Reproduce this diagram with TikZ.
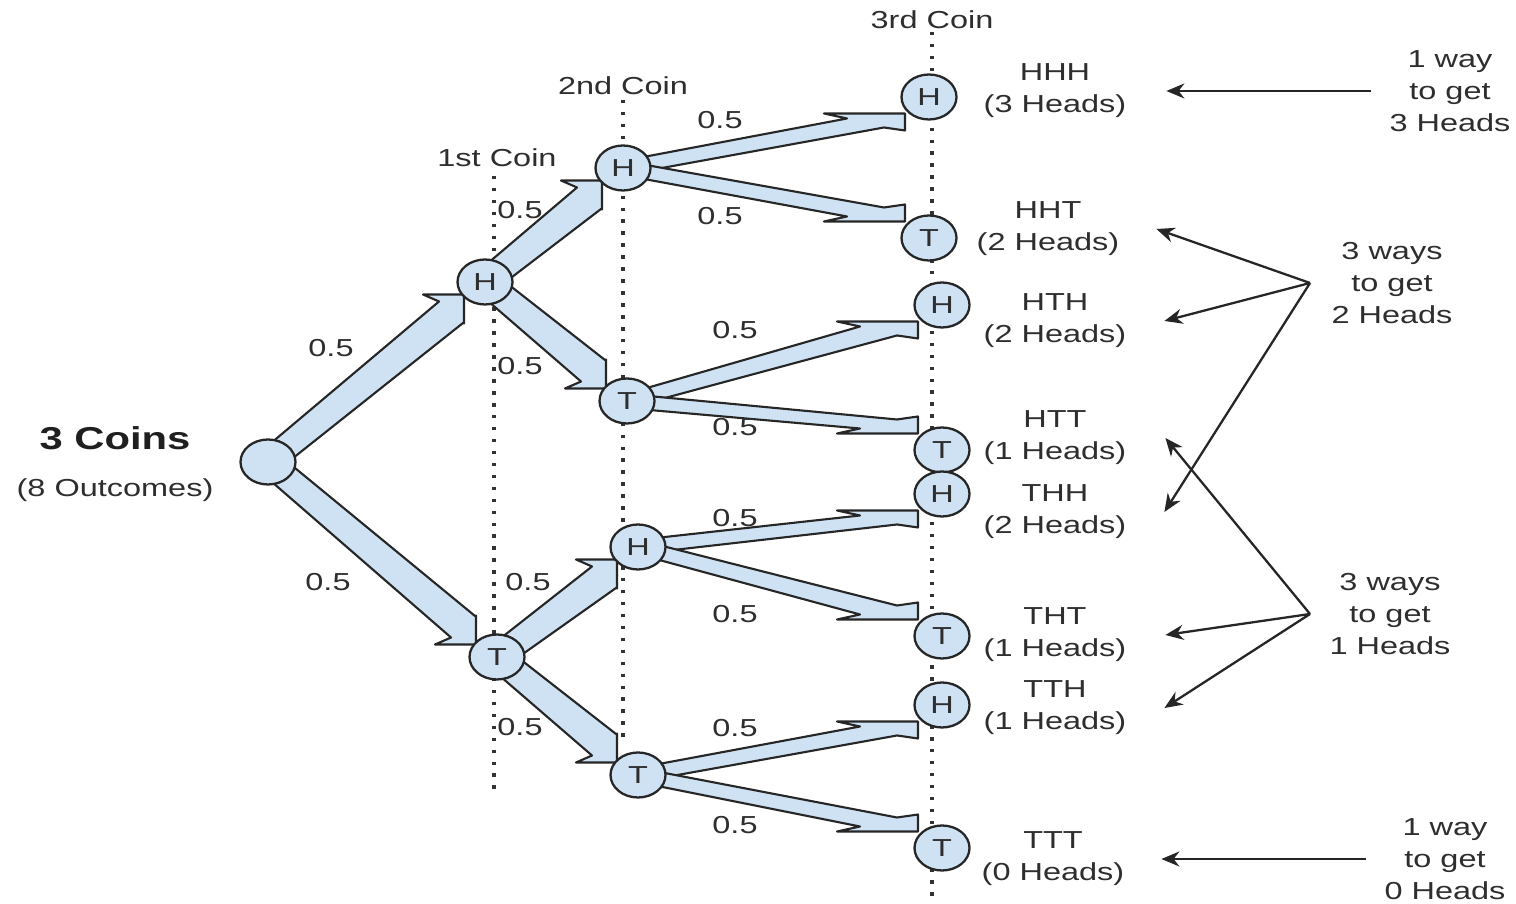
\documentclass[tikz,border=0pt]{standalone}
\usepackage{fontspec}
\setmainfont{Liberation Sans}[FakeStretch=1.32]
\usepackage{tikz}
\usetikzlibrary{arrows.meta,calc,shapes.geometric}
\tikzset{>={Stealth[length=0.36cm,width=0.3cm]}}
\definecolor{coinblue}{HTML}{CFE2F3}
\pgfdeclarelayer{bg}
\pgfsetlayers{bg,main}

% fat arrow from node #1 to the flat end #2, barb below (#3=1) or above (#3=-1)
\newcommand{\coinarrow}[3]{%
  \ifnum#3>0
    \coordinate (sa) at ($(#1)!\shaftw!90:(#2)$);
    \coordinate (sb) at ($(#1)!\shaftw!-90:(#2)$);
  \else
    \coordinate (sa) at ($(#1)!\shaftw!-90:(#2)$);
    \coordinate (sb) at ($(#1)!\shaftw!90:(#2)$);
  \fi
  \filldraw[fat] (sa) -- ($(#2)+(\upx,#3*\upy)$) -- ($(#2)+(0,#3*\endh)$) -- ($(#2)+(0,#3*-\endh)$)
    -- ($(#2)+(-\barbl,#3*-\endh)$) -- ($(#2)+(\notx,#3*-\noty)$) -- (sb) -- cycle;
}

\begin{document}
\begin{tikzpicture}[coin/.style={ellipse, draw=black!85, fill=coinblue, line width=1.3pt, minimum width=1.1cm, minimum height=0.9cm, inner sep=0pt, text=black!82},
  fat/.style={fill=coinblue, draw=black!85, line width=1.2pt, line join=round},
  prob/.style={text=black!82},
  outcome/.style={align=center, text=black!82, inner sep=1pt},
  way/.style={->, line width=1.3pt, black!85},
  coinline/.style={black!80, line width=2pt, dash pattern=on 2pt off 4.8pt},
  font=\fontsize{14pt}{18.2pt}\selectfont]
	\useasboundingbox (0,0) rectangle (30.32,18.08);

	\node[coin] (root) at (5.36,8.84) {};
	\node[coin] (c1h) at (9.70,12.44) {H};
	\node[coin] (c1t) at (9.94,4.94) {T};
	\node[coin] (c2hh) at (12.46,14.72) {H};
	\node[coin] (c2ht) at (12.54,10.06) {T};
	\node[coin] (c2th) at (12.76,7.14) {H};
	\node[coin] (c2tt) at (12.76,2.58) {T};
	\foreach \n/\x/\y/\t in {hhh/18.58/16.14/H, hht/18.58/13.32/T, hth/18.84/11.98/H, htt/18.84/9.08/T,
	                         thh/18.84/8.20/H, tht/18.84/5.36/T, tth/18.84/3.98/H, ttt/18.84/1.12/T}
		\node[coin] (\n) at (\x,\y) {\t};

	\node[font=\fontsize{18pt}{22pt}\selectfont\bfseries, text=black!88] (title) at (2.30,9.32) {3 Coins};
	\node[text=black!82] (sub) at (2.30,8.28) {(8 Outcomes)};
	\node[text=black!82] (l1) at (9.94,14.92) {1st Coin};
	\node[text=black!82] (l2) at (12.46,16.36) {2nd Coin};
	\node[text=black!82] (l3) at (18.64,17.68) {3rd Coin};

	\foreach \x/\y [count=\i] in {6.62/11.12, 6.56/6.44, 10.40/13.88, 10.40/10.76, 10.56/6.44, 10.40/3.54, 14.40/15.68,
	                              14.40/13.76, 14.70/11.48, 14.70/9.54, 14.70/7.72, 14.70/5.80, 14.70/3.52, 14.70/1.58}
		\node[prob] (p\i) at (\x,\y) {0.5};

	\foreach \n/\x/\y/\t/\h in {o1/21.10/16.26/HHH/3, o2/20.96/13.50/HHT/2, o3/21.10/11.66/HTH/2, o4/21.10/9.32/HTT/1,
	                            o5/21.10/7.84/THH/2, o6/21.10/5.38/THT/1, o7/21.10/3.92/TTH/1, o8/21.06/0.90/TTT/0}
		\node[outcome] (\n) at (\x,\y) {\t\\(\h{} Heads)};

	\node[outcome] (w3) at (29.00,16.26) {1 way\\to get\\3 Heads};
	\node[outcome] (w2) at (27.84,12.42) {3 ways\\to get\\2 Heads};
	\node[outcome] (w1) at (27.80,5.80) {3 ways\\to get\\1 Heads};
	\node[outcome] (w0) at (28.90,0.90) {1 way\\to get\\0 Heads};
	\coordinate (f2) at (26.20,12.42);
	\coordinate (f1) at (26.20,5.80);

	\draw[way, shorten <=0.32cm] (w3.west) -- ([xshift=0.76cm]o1.east);
	\draw[way] (f2) -- ([xshift=0.7cm]o2.east);
	\draw[way] (f2) -- ([xshift=0.72cm]o3.east);
	\draw[way] (f2) -- ([xshift=0.72cm]o5.east);
	\draw[way] (f1) -- ([xshift=0.74cm]o4.east);
	\draw[way] (f1) -- ([xshift=0.74cm]o6.east);
	\draw[way] (f1) -- ([xshift=0.72cm]o7.east);
	\draw[way, shorten <=0.32cm] (w0.west) -- ([xshift=0.7cm]o8.east);

	\begin{pgfonlayer}{bg}
		\draw[coinline] (9.88,14.56) -- (9.88,2.14);
		\draw[coinline] (12.46,16.08) -- (12.46,3.22);
		\draw[coinline] (18.64,17.44) -- (18.64,0);
		\def\shaftw{0.25cm}\def\upx{-0.02}\def\upy{0.28}\def\endh{0.29}\def\barbl{0.82}\def\notx{-0.5}\def\noty{0.15}
		\foreach \a/\b/\s in {root/c1h/-1, root/c1t/1, c1h/c2hh/-1, c1h/c2ht/1, c1t/c2th/-1, c1t/c2tt/1} {
			\coordinate (fe) at ([shift={(-0.42,\s*0.54)}]\b.center);
			\coinarrow{\a}{fe}{\s}
		}
		\def\shaftw{0.14cm}\def\upx{-0.42}\def\upy{0.11}\def\endh{0.17}\def\barbl{1.62}\def\notx{-1.16}\def\noty{0.07}
		\foreach \a/\b/\s in {c2hh/hhh/-1, c2hh/hht/1, c2ht/hth/-1, c2ht/htt/1,
		                      c2th/thh/-1, c2th/tht/1, c2tt/tth/-1, c2tt/ttt/1} {
			\coordinate (fe) at ([shift={(-0.48,\s*0.5)}]\b.center);
			\coinarrow{\a}{fe}{\s}
		}
	\end{pgfonlayer}
\end{tikzpicture}
\end{document}
